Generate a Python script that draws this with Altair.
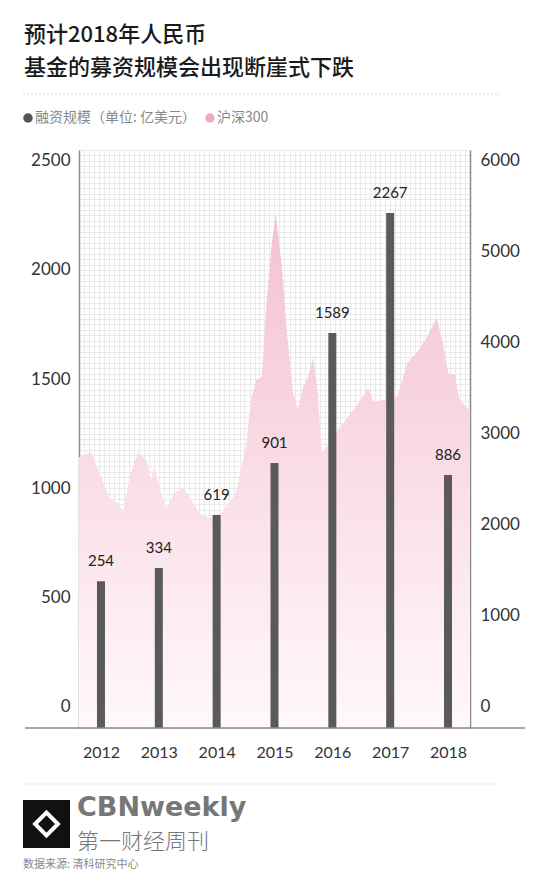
import altair as alt
import pandas as pd

# ---------------- text ----------------
TITLE_LINES = ["预计2018年人民币", "基金的募资规模会出现断崖式下跌"]
LEGEND_LABELS = ["融资规模（单位: 亿美元）", "沪深300"]
SOURCE = "数据来源: 清科研究中心"
BRAND = "CBNweekly"
BRAND_CN = "第一财经周刊"

# ---------------- bars (fund-raising, 亿美元) ----------------
YEARS = ["2012", "2013", "2014", "2015", "2016", "2017", "2018"]
BAR_LABELS = [254, 334, 619, 901, 1589, 2267, 886]
# bar tops as drawn in the picture, read against the left axis
BAR_DRAWN = [573, 633, 876, 1115, 1711, 2261, 1060]

# ---------------- CSI 300 (沪深300) ----------------
HS_DATES = [
    "2012-03-01", "2012-05-13", "2012-07-13", "2012-09-01", "2012-10-25", "2012-11-25",
    "2013-01-01", "2013-02-25", "2013-04-13", "2013-05-13", "2013-06-01", "2013-07-01",
    "2013-08-13", "2013-10-01", "2013-11-25", "2014-01-13", "2014-03-01", "2014-04-28",
    "2014-07-22", "2014-10-10", "2014-12-10", "2015-01-10", "2015-02-10", "2015-03-16",
    "2015-04-16", "2015-05-16", "2015-06-10", "2015-07-16", "2015-08-16", "2015-09-22",
    "2015-10-22", "2015-11-22", "2015-12-22", "2016-01-22", "2016-02-16", "2016-03-16",
    "2016-05-04", "2016-06-22", "2016-09-22", "2016-11-04", "2016-12-22", "2017-01-22",
    "2017-03-22", "2017-06-16", "2017-08-16", "2017-10-16", "2017-12-16", "2018-02-10",
    "2018-03-16", "2018-04-22", "2018-06-01", "2018-07-01", "2018-08-13", "2018-09-01",
]
HS_VALUES = [
    2740, 2797, 2520, 2290, 2235, 2136,
    2520, 2797, 2709, 2490, 2630, 2410,
    2180, 2345, 2410, 2268, 2125, 2070,
    2136, 2345, 2850, 3370, 3590, 3623,
    4471, 5100, 5407, 4835, 4108, 3447,
    3260, 3513, 3623, 3833, 3513, 2786,
    2900, 3040, 3260, 3370, 3502, 3348,
    3370, 3403, 3777, 3900, 4064, 4273,
    4031, 3667, 3645, 3370, 3282, 3260,
]

LEFT_TICKS = [0, 500, 1000, 1500, 2000, 2500]
RIGHT_TICKS = [0, 1000, 2000, 3000, 4000, 5000, 6000]
LEFT_DOMAIN = [-100, 2550]
RIGHT_DOMAIN = [-240, 6120]
GRID_STEP = 25

W, H = 391, 578
CJK = "Noto Sans CJK SC"
NUM = "Lato"

bar_df = pd.DataFrame({"year": YEARS, "drawn": BAR_DRAWN, "label": BAR_LABELS})
hs_df = pd.DataFrame({"date": HS_DATES, "value": HS_VALUES})
one = pd.DataFrame({"k": [0]})

grid_values = list(range(LEFT_DOMAIN[0], LEFT_DOMAIN[1] + 1, GRID_STEP))

gradient = alt.LinearGradient(
    gradient="linear",
    x1=0, x2=0, y1=0, y2=1,
    stops=[
        alt.GradientStop(offset=0, color="#f4c1cf"),
        alt.GradientStop(offset=0.35, color="#f8d4de"),
        alt.GradientStop(offset=0.7, color="#fce8ee"),
        alt.GradientStop(offset=1, color="#fff8fa"),
    ],
)

area = alt.Chart(hs_df).mark_area(color=gradient, interpolate="linear").encode(
    x=alt.X(
        "date:T",
        scale=alt.Scale(domain=[alt.DateTime(year=2012, month=3, date=1),
                                alt.DateTime(year=2018, month=9, date=1)]),
        axis=alt.Axis(orient="top", grid=True, gridColor="#e4e4e4", gridWidth=0.8,
                      labels=False, ticks=False, domain=False, title=None,
                      tickCount=alt.TimeIntervalStep(interval="month", step=1)),
    ),
    y=alt.Y(
        "value:Q",
        scale=alt.Scale(domain=RIGHT_DOMAIN, nice=False, zero=False),
        axis=alt.Axis(orient="right", values=RIGHT_TICKS, format="d", grid=False, ticks=False,
                      domain=True, domainColor="#8a8a8a", domainWidth=1.5,
                      labelPadding=10, labelFontSize=17, labelColor="#333", labelFont=NUM,
                      title=None),
    ),
    y2=alt.datum(RIGHT_DOMAIN[0]),
)

bar_base = alt.Chart(bar_df).encode(
    x=alt.X(
        "year:O",
        scale=alt.Scale(type="point", padding=0.38),
        axis=alt.Axis(orient="bottom", ticks=False, domain=False, labelAngle=0,
                      labelPadding=16, labelFontSize=16, labelColor="#333", labelFont=NUM,
                      title=None, grid=False),
    ),
    y=alt.Y(
        "drawn:Q",
        scale=alt.Scale(domain=LEFT_DOMAIN, nice=False, zero=False),
        axis=alt.Axis(orient="left", values=grid_values, format="d",
                      labelExpr=f"indexof({LEFT_TICKS}, datum.value) >= 0 ? datum.label : ''",
                      labelOverlap=False, grid=True, gridColor="#e4e4e4", gridWidth=0.8,
                      ticks=False, domain=True, domainColor="#8a8a8a", domainWidth=1.5,
                      labelPadding=9, labelFontSize=17, labelColor="#333", labelFont=NUM,
                      title=None),
    ),
)
bars = bar_base.mark_bar(size=8, color="#5a5a5a").encode(y2=alt.datum(LEFT_DOMAIN[0]))
bar_text = bar_base.mark_text(dy=-20, baseline="middle", fontSize=15, color="#222",
                              font=NUM).encode(text="label:N")
bar_layer = alt.layer(bars, bar_text)


def txt(s, x, y, **kw):
    return alt.Chart(pd.DataFrame({"t": [s]})).mark_text(
        align="left", baseline="middle", **kw
    ).encode(x=alt.value(x), y=alt.value(y), text="t:N")


def hline(x1, x2, y, **kw):
    return alt.Chart(one).mark_rule(**kw).encode(x=alt.value(x1), x2=alt.value(x2), y=alt.value(y))


deco = [
    txt(TITLE_LINES[0], -55, -115, font=CJK, fontSize=22, fontWeight=500, color="#1a1a1a"),
    txt(TITLE_LINES[1], -55, -82, font=CJK, fontSize=22, fontWeight=500, color="#1a1a1a"),
    hline(-56, 421, -56, color="#d5d5d5", strokeDash=[2, 2], strokeWidth=1),
    alt.Chart(one).mark_point(shape="circle", filled=True, size=90, color="#555", opacity=1).encode(
        x=alt.value(-51), y=alt.value(-32)),
    txt(LEGEND_LABELS[0], -44, -32, font=CJK, fontSize=14, color="#888"),
    alt.Chart(one).mark_point(shape="circle", filled=True, size=90, color="#f2a9c0", opacity=1).encode(
        x=alt.value(131), y=alt.value(-32)),
    txt(LEGEND_LABELS[1], 138, -32, font=CJK, fontSize=14, color="#888"),
    hline(-54, W + 55, H, color="#8a8a8a", strokeWidth=1.5),
    hline(-56, 421, 634, color="#d5d5d5", strokeDash=[2, 2], strokeWidth=1),
    alt.Chart(one).mark_rect(color="#111").encode(
        x=alt.value(-56), x2=alt.value(-9), y=alt.value(650), y2=alt.value(698)),
    alt.Chart(one).mark_point(shape="diamond", filled=False, color="white", strokeWidth=4,
                              size=520, opacity=1).encode(x=alt.value(-32.5), y=alt.value(674)),
    txt(BRAND, -2, 658, font="DejaVu Sans", fontSize=27, fontWeight="bold", color="#777"),
    txt(BRAND_CN, -2, 692, font=CJK, fontSize=22, fontWeight=300, color="#777"),
    txt(SOURCE, -56, 715, font=CJK, fontSize=11, color="#888"),
]

chart = alt.layer(area, bar_layer, *deco).resolve_scale(
    x="independent", y="independent"
).properties(
    width=W, height=H,
    padding={"left": 71, "top": 142, "right": 70, "bottom": 144},
    autosize=alt.AutoSizeParams(type="none"),
).configure_view(strokeWidth=0)

chart.save("out.html", embed_options={"renderer": "svg", "actions": False})
